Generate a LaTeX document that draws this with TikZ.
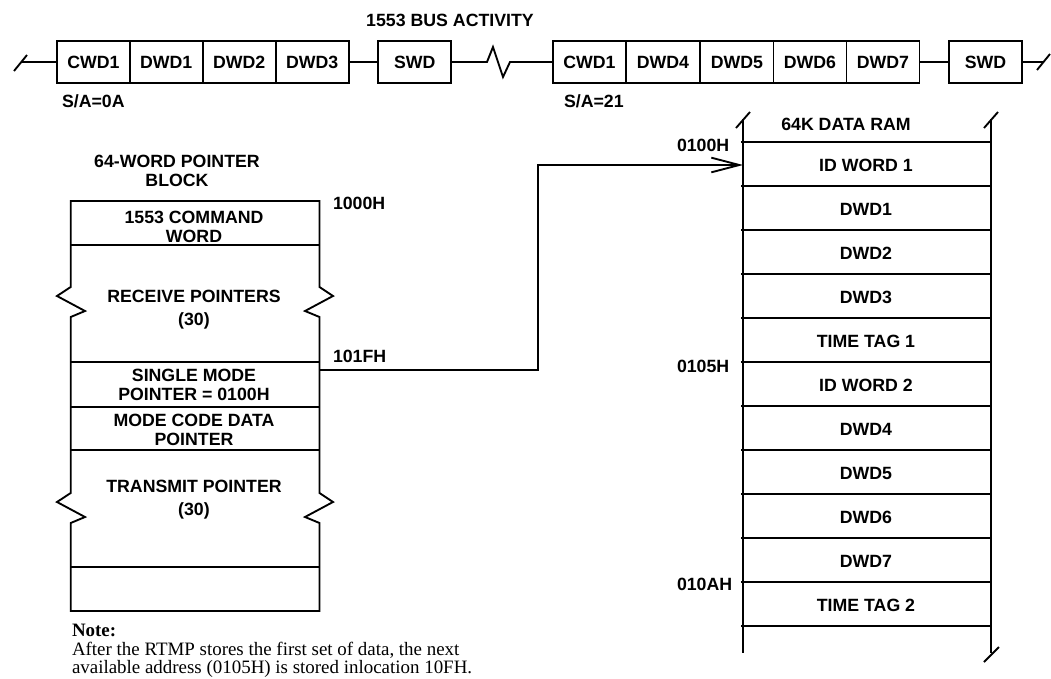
\documentclass[tikz,border=0pt]{standalone}
\usepackage{fontspec}
\setmainfont{Liberation Serif}
\newfontfamily\lsans{Liberation Sans}
\usetikzlibrary{arrows.meta}
\begin{document}
\begin{tikzpicture}[x=0.75pt,y=-0.75pt,
  every node/.style={inner sep=0pt, outer sep=0pt},
  lbl/.style={font=\lsans\bfseries\fontsize{13.3}{14.3}\selectfont, align=center},
  busbox/.style={lbl, draw, line width=1.4pt, minimum width=54.75pt, minimum height=31.5pt},
  wire/.style={line width=1.4pt},
  notetxt/.style={font=\fontsize{14.2}{13.5}\selectfont, anchor=base west}
]
\useasboundingbox (0,0) rectangle (1051,679);

% ---------------- 1553 bus activity ----------------
\node[lbl] (bustitle) at (450,20) {1553 BUS ACTIVITY};

\node[busbox] (cwa) at (93.5,62) {CWD1};
\node[busbox] (d1) at (166.2,62) {DWD1};
\node[busbox] (d2) at (239.2,62) {DWD2};
\node[busbox] (d3) at (312.2,62) {DWD3};
\node[busbox] (swa) at (414.7,62) {SWD};
\node[busbox] (cwb) at (589.4,62) {CWD1};
\node[busbox] (d4) at (663,62) {DWD4};
\node[busbox] (d5) at (737,62) {DWD5};
\node[busbox] (d6) at (810,62) {DWD6};
\node[busbox] (d7) at (883,62) {DWD7};
\node[busbox] (swb) at (985.5,62) {SWD};

\node[lbl, anchor=west] (saa) at (62,101) {S/A=0A};
\node[lbl, anchor=west] (sab) at (564,101) {S/A=21};

\coordinate (busL) at (21.5,62);
\coordinate (busR) at (1043,62);
\draw[wire] (14,71) -- (27,55);
\draw[wire] (busL) -- (cwa.west);
\draw[wire] (d3.east) -- (swa.west);
\draw[wire] (swa.east) -- (487,62) -- (493,47) -- (503,77) -- (510,62) -- (cwb.west);
\draw[wire] (d7.east) -- (swb.west);
\draw[wire] (swb.east) -- (busR);
\draw[wire] (1037,70) -- (1050,54);

% ---------------- pointer block ----------------
\node[lbl] (ptitle) at (177,171) {64-WORD POINTER\\BLOCK};

\draw[wire, line join=miter] (70.7,201) -- (319.5,201) -- (319.5,287) -- (333,296) -- (305,311) -- (319.5,317)
  -- (319.5,493) -- (333,502) -- (305,517) -- (319.5,523) -- (319.5,611)
  -- (70.7,611) -- (70.7,523) -- (85,517) -- (57,502) -- (70.7,493)
  -- (70.7,317) -- (85,311) -- (57,296) -- (70.7,287) -- cycle;
\foreach \yy in {245,362,407,450,567}
  \draw[wire] (70.7,\yy) -- (319.5,\yy);

\node[lbl] (pcmd) at (194,226.5) {1553 COMMAND\\WORD};
\node[lbl] (prcv) at (194,310) {RECEIVE POINTERS\\[3pt](30)};
\node[lbl] (psgl) at (194,385) {SINGLE MODE\\POINTER = 0100H};
\node[lbl] (pmcd) at (194,429.5) {MODE CODE DATA\\POINTER};
\node[lbl] (ptx) at (194,500) {TRANSMIT POINTER\\[3pt](30)};

\node[lbl, anchor=west] (a1000) at (333,203) {1000H};
\node[lbl, anchor=west] (a101f) at (333,356) {101FH};

% ---------------- 64K data RAM ----------------
\node[lbl] (ramtitle) at (846,124) {64K DATA RAM};
\draw[wire] (743,119) -- (743,653);
\draw[wire] (991,119) -- (991,653);
\draw[wire] (736,128) -- (750,112);
\draw[wire] (984,128) -- (998,112);
\draw[wire] (984,662) -- (999,647);
\foreach \yy in {142,186,230,274,318,362,406,450,494,538,582,626}
  \draw[wire] (741,\yy) -- (991,\yy);

\node[lbl] (r1) at (866,165) {ID WORD 1};
\node[lbl] (r2) at (866,209) {DWD1};
\node[lbl] (r3) at (866,253) {DWD2};
\node[lbl] (r4) at (866,297) {DWD3};
\node[lbl] (r5) at (866,341) {TIME TAG 1};
\node[lbl] (r6) at (866,385) {ID WORD 2};
\node[lbl] (r7) at (866,429) {DWD4};
\node[lbl] (r8) at (866,473) {DWD5};
\node[lbl] (r9) at (866,517) {DWD6};
\node[lbl] (r10) at (866,561) {DWD7};
\node[lbl] (r11) at (866,605) {TIME TAG 2};

\node[lbl, anchor=west] (a0100) at (677,145) {0100H};
\node[lbl, anchor=west] (a0105) at (677,366) {0105H};
\node[lbl, anchor=west] (a010a) at (677,584) {010AH};

% ---------------- connector ----------------
\coordinate (pout) at (319.5,370);
\coordinate (ramin) at (743,165);
\draw[wire, -{Straight Barb[length=21pt,width=11pt]}] (pout) -- (538,370) |- (ramin);

% ---------------- note ----------------
\node[notetxt, font=\fontsize{14.2}{13.5}\selectfont\bfseries] (nt0) at (72,636) {Note:};
\node[notetxt] (nt1) at (72,655) {After the RTMP stores the first set of data, the next};
\node[notetxt] (nt2) at (72,673) {available address (0105H) is stored inlocation 10FH.};
\end{tikzpicture}
\end{document}
